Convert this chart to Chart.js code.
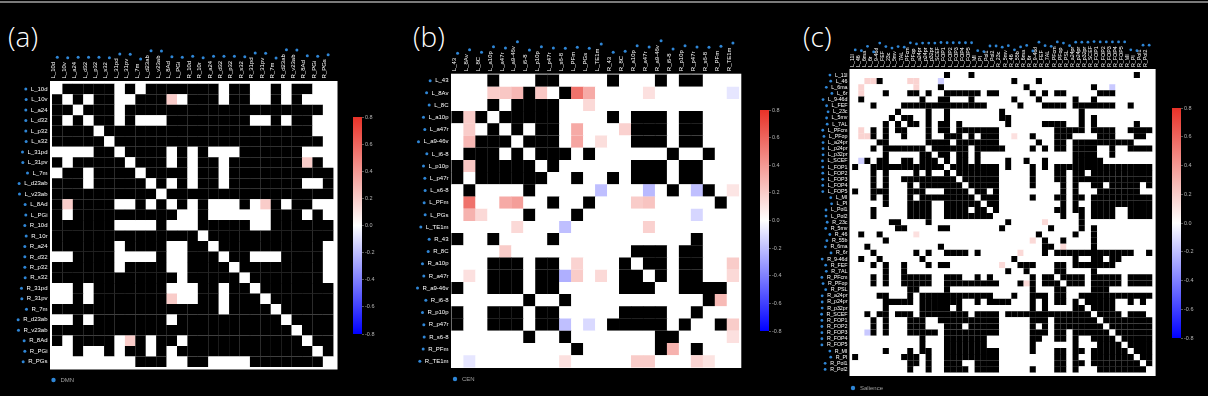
<!DOCTYPE html>
<html>
<head>
<meta charset="utf-8">
<title>Network matrices</title>
<script src="https://cdn.jsdelivr.net/npm/chart.js@4"></script>
<style>
html, body { margin: 0; padding: 0; background: #000; width: 1208px; height: 396px; overflow: hidden; }
canvas { position: absolute; filter: blur(0.45px); }
.tag { position: absolute; color: #fff; font: 300 28px "Open Sans", "Liberation Sans", sans-serif; line-height: 1; }
#strip { position: absolute; left: 0; top: 1px; width: 1208px; height: 2px; background: #7a7a7a; }
</style>
</head>
<body>
<div id="strip"></div>
<div class="tag" style="left:8px;top:22px">(a)</div>
<div class="tag" style="left:413px;top:22px">(b)</div>
<div class="tag" style="left:803px;top:22px">(c)</div>
<canvas id="matA"></canvas><canvas id="barA"></canvas>
<canvas id="matB"></canvas><canvas id="barB"></canvas>
<canvas id="matC"></canvas><canvas id="barC"></canvas>
<script>
// region labels
const labelsA = ["L_10d","L_10v","L_a24","L_d32","L_p32","L_s32","L_31pd","L_31pv","L_7m","L_d23ab","L_v23ab","L_8Ad","L_PGi",
  "R_10d","R_10r","R_a24","R_d32","R_p32","R_s32","R_31pd","R_31pv","R_7m","R_d23ab","R_v23ab","R_8Ad","R_PGi","R_PGs"];
const labelsB = ["L_43","L_8Av","L_8C","L_a10p","L_a47r","L_a9-46v","L_i6-8","L_p10p","L_p47r","L_s6-8","L_PFm","L_PGs","L_TE1m",
  "R_43","R_8C","R_a10p","R_a47r","R_a9-46v","R_i6-8","R_p10p","R_p47r","R_s6-8","R_PFm","R_TE1m"];
const labelsC = ["L_11l","L_46","L_6ma","L_6r","L_9-46d","L_FEF","L_23c","L_5mv","L_7AL","L_PFcm","L_PFop","L_a24pr","L_p24pr","L_p32pr","L_SCEF",
  "L_FOP1","L_FOP2","L_FOP3","L_FOP4","L_FOP5","L_MI","L_PI","L_Pol1","L_Pol2",
  "R_23c","R_5mv","R_46","R_55b","R_6ma","R_6r","R_9-46d","R_FEF","R_7AL","R_PFcm","R_PFop","R_PSL","R_a24pr","R_p24pr","R_p32pr","R_SCEF",
  "R_FOP1","R_FOP2","R_FOP3","R_FOP4","R_FOP5","R_MI","R_PI","R_Pol1","R_Pol2"];

// black (masked) cells per row, as column numbers and ranges
const maskA = ["1-5 7 9-15 17 18 21 23 24","0 2 4 5 8-10 13-15 17 18 21 23","0 1 3-5 7-25","0 2 4 5 7 11-18 21 23 24","0-3 5-24","0-4 6-25",
  "4 5 7-10 12 14 18-23","0 2-6 8-10 12 14 15 17-23 25","1 2 4-7 9-12 14 15 17-26","0-2 4-8 10 12 14 15 17-23 26","0-9 11-26",
  "0 2-5 8 10 12 14 18 21 23 24","0 2-11 14 21-23 25","0-5 10 14-18 21-26","0-13 15-26","0-5 7-10 13 14 16-25","2-5 10 13-15 17 18 22-25",
  "0-5 7-10 13-16 18-25","0-11 13-17 19-25","2 4-10 14 15 17 18 20-26","2 4-10 14 15 17-19 21-26","0-15 17-20 22-26","2 4-10 12-21 23-26",
  "0-22 24-26","0 2-5 8 10 11 13-23 25 26","2 5 7 8 10 12-24 26","8-10 13 14 19-25"];
const maskB = ["3 7 8 13 17 19 20","6 9","3 5-8","0 2 4-8 13 15-17 19 20","3 5 7 8 15-17 19 20","2-4 6-8 15-17 19 20","1-3 5 7-9 11 18 21",
  "0 2-6 8 15-17 19 20","0 2-7 10 13 15-17 19 20","1 6 18 21","8 11 22","6 10","","0 3 8 20","15-17 19 20","3-5 7 8 14 16 17 19 20",
  "3-5 7 8 14 15 17 19 20","0 3-5 7 8 14-16 19-22","6 9 21","0 3-5 7 8 14-17 20","0 3-5 7 8 13-17 19 22","6 9 17 18","10 17 20",""];
// panel c is symmetric, only the part right of the diagonal is listed
const maskC = ["15 19 46","4 26 30","14 28 39","5 9 10 12 15-20 22 23 29 31 33 34 40-42","11 14 15 19 26 30 36 39","8-21 27 31-34 36-42 45",
  "7 12 15 24 37","8 9 12 15 24 25 37 39","9 10 12 14 15 17 25 31-34 37 39 46","12 14 15 17-23 33-37 39-42 45-48",
  "12 15-17 19 21-23 29 33-35 40-42 46 47","12-15 17-23 30 33 34 36-45","13-18 20-24 29 31 33 34 36-39 42 45-48","14 15 17 18 20 36-39 42",
  "15 17 18 20 25 28 31 36-40","16-23 25 29 31 33-48","17-23 29 33 34 36 37 39-48","18-23 29 33 34 36-48","19-23 29 34 36 39 40 42-46 48",
  "20 21 23 34 36 40-46","21-23 29 33 34 36 37 39-48","22 23 34 36 39-48","23 33 34 36 37 39-42 45-48","34 37 39-42 45-48",
  "25 37","32 37 39","30 36 39","31 34 39","31 32 39","31 33-45 48","36 39 40 42 43","33 34 36-42","33 34 39","34-37 39-43 45-48","35-37 39-43 45-48",
  "39-41","37-48","38-42 45 47","39-42","40-43 45-47","41-48","42-48","43-48","44-48","45-48","46-48","47 48","48",""];

// cells with a visible value: [row, col, value]
const tintA = [[1,11,0.2],[7,24,0.2],[11,1,0.2],[11,20,0.2],[20,11,0.2],[24,7,0.2]];
const tintB = [[1,3,0.2],[1,4,0.22],[1,5,0.28],[1,7,0.22],[1,10,0.55],[1,11,0.33],[1,16,0.12],[1,23,-0.08],[2,11,0.15],
  [3,1,0.2],[4,1,0.2],[4,10,0.33],[4,14,0.18],[5,1,0.28],[5,10,0.35],[5,12,0.13],[7,1,0.22],
  [9,12,-0.2],[9,16,-0.22],[9,20,-0.2],[9,23,0.1],[10,1,0.55],[10,4,0.33],[10,5,0.38],[10,15,0.2],[10,16,0.23],
  [11,1,0.3],[11,2,0.15],[11,20,-0.13],[12,5,0.15],[12,9,-0.2],[12,16,0.18],[14,4,0.2],[15,10,0.17],[15,23,0.2],
  [16,1,0.12],[16,9,-0.25],[16,10,0.2],[16,12,0.15],[16,23,0.15],[18,22,0.27],[20,9,-0.2],[20,11,-0.12],[20,23,0.2],
  [21,23,0.12],[22,18,0.3],[23,1,-0.08],[23,9,0.12],[23,15,0.2],[23,16,0.2],[23,20,0.17],[23,21,0.11]];
const tintC = [[1,2,0.17],[1,3,0.17],[1,9,0.17],[1,10,0.17],[1,14,-0.15],[2,10,0.17],[2,42,-0.17],[10,26,0.12],[24,31,0.15],[27,29,0.15],[28,34,0.15]];

const colorTicks = [-0.8,-0.6,-0.4,-0.2,0,0.2,0.4,0.6,0.8];

const hotRgb = [232,50,40], coldRgb = [0,0,255];
function valueColor(v) {
  const end = v > 0 ? hotRgb : coldRgb, t = Math.min(Math.abs(v) / 0.8, 1);
  return "rgb(" + end.map(e => Math.round(255 + (e - 255) * t)).join(",") + ")";
}

function expand(str) {
  const out = [];
  str.split(" ").filter(Boolean).forEach(p => {
    const [a, b] = p.split("-").map(Number);
    for (let i = a; i <= (b === undefined ? a : b); i++) out.push(i);
  });
  return out;
}

function buildCells(n, mask, tints, mirror) {
  const grid = [];
  for (let r = 0; r < n; r++) grid.push(new Array(n).fill(0));
  mask.forEach((row, r) => expand(row).forEach(c => { grid[r][c] = null; if (mirror) grid[c][r] = null; }));
  tints.forEach(([r, c, v]) => { grid[r][c] = v; if (mirror) grid[c][r] = v; });
  const cells = [];
  grid.forEach((row, r) => row.forEach((v, c) => cells.push({ x: c, y: r, v: v })));
  return cells;
}

const dotColor = "#2f86d6";
function dot(ctx, x, y, r) {
  ctx.beginPath(); ctx.arc(x, y, r, 0, Math.PI * 2); ctx.fillStyle = dotColor; ctx.fill();
}

// white plot background, blue dots next to the tick labels, network legend
function matrixDecor(p) {
  return {
    id: "matrixDecor",
    beforeDatasetsDraw(chart) {
      const a = chart.chartArea;
      chart.ctx.fillStyle = "#fff";
      chart.ctx.fillRect(a.left, a.top, a.right - a.left, a.bottom - a.top);
    },
    afterDraw(chart) {
      const ctx = chart.ctx, xs = chart.scales.x, ys = chart.scales.y;
      ctx.save();
      ctx.font = p.font + "px 'Liberation Sans'";
      p.labels.forEach((lab, i) => {
        const w = ctx.measureText(lab).width;
        dot(ctx, xs.getPixelForValue(i), chart.chartArea.top - p.pad - w - 4.5, p.dotR);
        dot(ctx, chart.chartArea.left - p.pad - w - 5, ys.getPixelForValue(i), p.dotR);
      });
      dot(ctx, p.legendX - p.x, p.legendY, 2.2);
      ctx.font = "6px 'Liberation Sans'";
      ctx.fillStyle = "#a0a0a0";
      ctx.textBaseline = "middle";
      ctx.fillText(p.legend, p.legendX - p.x + 7, p.legendY);
      ctx.restore();
    }
  };
}

function matrixChart(id, p) {
  const cv = document.getElementById(id);
  cv.width = p.w; cv.height = 396;
  cv.style.left = p.x + "px"; cv.style.top = "0px";
  const cellW = (p.right - p.left) / (p.labels.length + p.padX[0] + p.padX[1]);
  const side = cellW * 1.01;
  const tickFont = { family: "'Liberation Sans'", size: p.font };
  return new Chart(cv, {
    type: "scatter",
    data: { datasets: [{
      data: buildCells(p.labels.length, p.mask, p.tints, p.mirror),
      pointStyle: "rect",
      pointRadius: side / Math.SQRT2,
      pointBorderWidth: 0,
      pointBackgroundColor: c => c.raw.v === null ? "#000" : (c.raw.v === 0 ? "#fff" : valueColor(c.raw.v))
    }] },
    plugins: [matrixDecor(p)],
    options: {
      responsive: false, animation: false, events: [],
      layout: { padding: { left: 0, top: 0, right: p.w - p.right, bottom: 396 - p.bottom } },
      scales: {
        x: {
          type: "linear", position: "top",
          min: -0.5 - p.padX[0], max: p.labels.length - 0.5 + p.padX[1],
          grid: { display: false, drawTicks: false }, border: { display: false },
          afterBuildTicks: s => { s.ticks = p.labels.map((_, i) => ({ value: i })); },
          afterFit: s => { s.height = p.top; },
          ticks: { autoSkip: false, minRotation: 90, maxRotation: 90, padding: p.pad, color: "#fff", font: tickFont,
            labelOffset: p.font * 0.6, callback: v => p.labels[v] }
        },
        y: {
          type: "linear", reverse: true,
          min: -0.5 - p.padY[0], max: p.labels.length - 0.5 + p.padY[1],
          grid: { display: false, drawTicks: false }, border: { display: false },
          afterBuildTicks: s => { s.ticks = p.labels.map((_, i) => ({ value: i })); },
          afterFit: s => { s.width = p.left; },
          ticks: { autoSkip: false, padding: p.pad, color: "#fff", font: tickFont, callback: v => p.labels[v] }
        }
      },
      plugins: { legend: { display: false }, tooltip: { enabled: false } }
    }
  });
}

function colorbarChart(id, b) {
  const cv = document.getElementById(id);
  const w = b.right - b.left + 24, h = b.bottom - b.top + 12;
  cv.width = w; cv.height = h;
  cv.style.left = b.left + "px"; cv.style.top = (b.top - 6) + "px";
  return new Chart(cv, {
    type: "bar",
    data: { labels: [""], datasets: [{
      data: [[colorTicks[0], colorTicks[colorTicks.length - 1]]],
      barPercentage: 1, categoryPercentage: 1,
      backgroundColor: c => {
        const a = c.chart.chartArea;
        if (!a) return "#fff";
        const g = c.chart.ctx.createLinearGradient(0, a.bottom, 0, a.top);
        colorTicks.forEach(t => g.addColorStop((t - colorTicks[0]) / 1.6, valueColor(t)));
        return g;
      }
    }] },
    options: {
      responsive: false, animation: false, events: [],
      layout: { padding: { left: 0, top: 6, right: 0, bottom: 6 } },
      scales: {
        x: { display: false },
        y: {
          position: "right", min: -0.8, max: 0.8,
          afterBuildTicks: s => { s.ticks = colorTicks.map(t => ({ value: t })); },
          afterFit: s => { s.width = 24; },
          grid: { drawOnChartArea: false, tickLength: 2, tickColor: "#aaa", lineWidth: 0.5 },
          border: { display: false },
          ticks: { padding: 1, color: "#b5b5b5", font: { family: "'Liberation Sans'", size: 5.5 },
            callback: v => v.toFixed(1) }
        }
      },
      plugins: { legend: { display: false }, tooltip: { enabled: false } }
    }
  });
}

matrixChart("matA", { x: 0, w: 345, labels: labelsA, mask: maskA, tints: tintA, mirror: false,
  left: 50, right: 339.5, top: 81, bottom: 369.5, padX: [0.2, 0.4], padY: [0.27, 0.24],
  font: 6, pad: 2.5, dotR: 1.5, legend: "DMN", legendX: 53.5, legendY: 380 });
matrixChart("matB", { x: 400, w: 350, labels: labelsB, mask: maskB, tints: tintB, mirror: false,
  left: 51, right: 346.7, top: 73.7, bottom: 368, padX: [0.05, 0.2], padY: [0.07, 0.05],
  font: 6, pad: 2.5, dotR: 1.5, legend: "CEN", legendX: 455, legendY: 379 });
matrixChart("matC", { x: 800, w: 360, labels: labelsC, mask: maskC, tints: tintC, mirror: true,
  left: 49.5, right: 357.7, top: 69, bottom: 376, padX: [0.44, 0.55], padY: [0.49, 0.57],
  font: 5.3, pad: 2, dotR: 1.4, legend: "Salience", legendX: 853, legendY: 388 });

colorbarChart("barA", { left: 353, right: 362, top: 117, bottom: 334 });
colorbarChart("barB", { left: 760, right: 769, top: 110, bottom: 331 });
colorbarChart("barC", { left: 1172, right: 1181, top: 108, bottom: 338 });
</script>
</body>
</html>
